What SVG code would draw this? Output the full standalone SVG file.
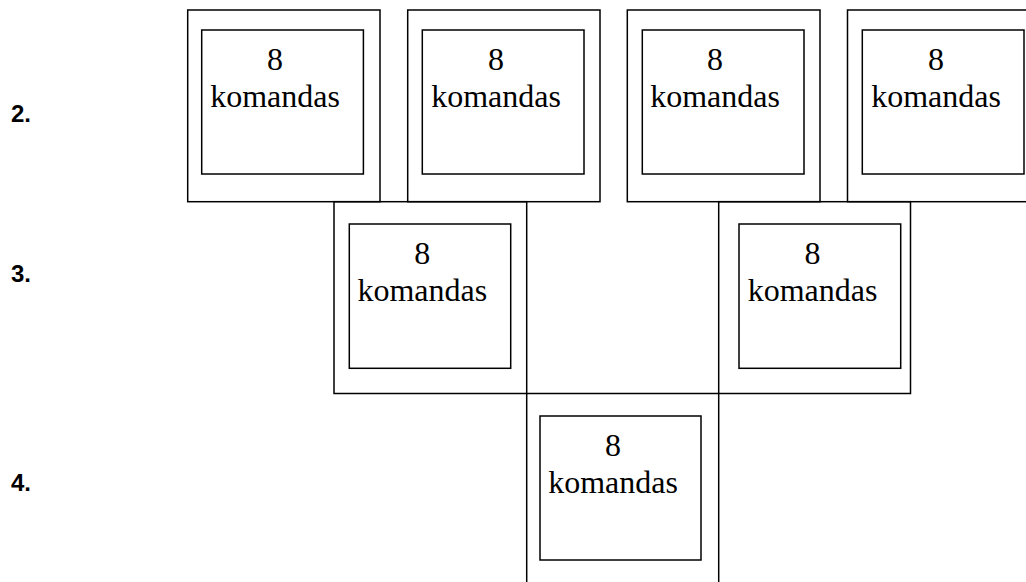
<svg xmlns="http://www.w3.org/2000/svg" width="1026" height="582" viewBox="0 0 1026 582">
<style>
.outer{fill:none;stroke:#000;stroke-width:1.5}
.inner{fill:none;stroke:#000;stroke-width:1.5}
.t{font-family:"Liberation Serif","Times New Roman",serif;font-size:32px;fill:#000;text-anchor:middle}
.lbl{font-family:"Liberation Sans",Arial,sans-serif;font-size:24px;font-weight:bold;fill:#000}
</style>
<rect x="0" y="0" width="1026" height="582" fill="#fff"/>
<g id="labels">
<text class="lbl" x="11" y="121.5">2.</text>
<text class="lbl" x="11" y="281.5">3.</text>
<text class="lbl" x="11" y="491">4.</text>
</g>
<g id="r2-1">
<rect class="outer" x="187.7" y="10" width="192.3" height="191.7"/>
<rect class="inner" x="201.7" y="30" width="161.7" height="144"/>
<text class="t" x="275" y="70">8</text>
<text class="t" x="275" y="107">komandas</text>
</g>
<g id="r2-2">
<rect class="outer" x="407.7" y="10" width="192.3" height="191.7"/>
<rect class="inner" x="422.3" y="30" width="161.7" height="144"/>
<text class="t" x="496" y="70">8</text>
<text class="t" x="496" y="107">komandas</text>
</g>
<g id="r2-3">
<rect class="outer" x="627.3" y="10" width="192.7" height="191.7"/>
<rect class="inner" x="642.3" y="30" width="161.7" height="144"/>
<text class="t" x="715" y="70">8</text>
<text class="t" x="715" y="107">komandas</text>
</g>
<g id="r2-4">
<rect class="outer" x="847.5" y="10" width="192.3" height="191.7"/>
<rect class="inner" x="862.3" y="30" width="161.7" height="144"/>
<text class="t" x="936" y="70">8</text>
<text class="t" x="936" y="107">komandas</text>
</g>
<g id="r3-1">
<rect class="outer" x="334" y="201.7" width="192.7" height="191.8"/>
<rect class="inner" x="349.3" y="224" width="161.4" height="144.3"/>
<text class="t" x="422.3" y="264">8</text>
<text class="t" x="422.3" y="301">komandas</text>
</g>
<g id="r3-2">
<rect class="outer" x="718.7" y="201.7" width="191.8" height="191.8"/>
<rect class="inner" x="739" y="224" width="161.7" height="144.3"/>
<text class="t" x="812.5" y="264">8</text>
<text class="t" x="812.5" y="301">komandas</text>
</g>
<g id="r4-1">
<rect class="outer" x="526.7" y="393.5" width="192" height="200"/>
<rect class="inner" x="540" y="416" width="161" height="144"/>
<text class="t" x="613" y="456">8</text>
<text class="t" x="613" y="493">komandas</text>
</g>
</svg>
